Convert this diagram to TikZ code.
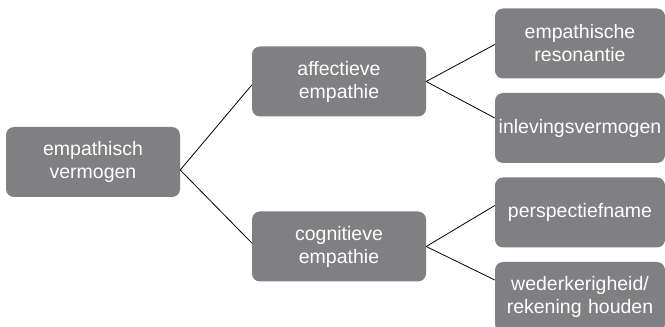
\documentclass[tikz,border=0pt]{standalone}
\usepackage{fontspec}
\setmainfont{Liberation Sans}
\usepackage{xcolor}
\usetikzlibrary{positioning}
\definecolor{boxgray}{RGB}{128,128,130}

\begin{document}
\begin{tikzpicture}[
    x=1pt, y=1pt,
    box/.style={
        rectangle,
        fill=boxgray,
        text=white,
        align=center,
        text width=168pt,
        minimum height=70pt,
        inner sep=3pt,
        rounded corners=8pt,
        font=\fontsize{19.5}{23}\selectfont
    },
    leaf/.style={
        box,
        text width=164pt
    },
    line/.style={
        draw,
        line width=0.8pt
    }
]
\useasboundingbox (0,0) rectangle (665,327);

% Nodes
\node [box] (vermogen) at (93,165) {empathisch\\vermogen};
\node [box] (affectief) at (339,245.5) {affectieve\\empathie};
\node [box] (cognitief) at (339,80.5) {cognitieve\\empathie};
\node [leaf] (resonantie) at (580,283.5) {empathische\\resonantie};
\node [leaf] (inleving) at (580,199) {inlevingsvermogen};
\node [leaf] (perspectief) at (580,114.5) {perspectiefname};
\node [leaf] (wederkerig) at (580,30) {wederkerigheid/\\rekening houden};

% Paths
\path [line] ([yshift=-8pt]vermogen.east) -- ([yshift=-3.5pt]affectief.west);
\path [line] ([yshift=-8pt]vermogen.east) -- ([yshift=3.5pt]cognitief.west);
\path [line] (affectief.east) -- ([yshift=-1pt]resonantie.west);
\path [line] (affectief.east) -- ([yshift=10pt]inleving.west);
\path [line] (cognitief.east) -- ([yshift=7pt]perspectief.west);
\path [line] (cognitief.east) -- ([yshift=17pt]wederkerig.west);

\end{tikzpicture}
\end{document}
